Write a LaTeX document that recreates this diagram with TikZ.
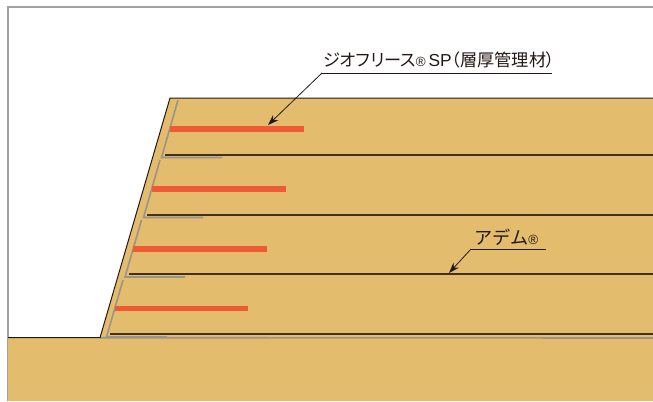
\documentclass[tikz,border=0pt]{standalone}
\usepackage{fontspec}
\setmainfont{Liberation Sans}
\newfontfamily\cjk{Noto Sans CJK JP}
\newfontfamily\cjkp[RawFeature=+palt]{Noto Sans CJK JP}
\definecolor{soil}{HTML}{E4BC6E}
\definecolor{geo}{HTML}{EE5A33}
\definecolor{rim}{HTML}{A0A0A0}
\definecolor{ink}{HTML}{231815}
\definecolor{wrap}{HTML}{9A948A}
\tikzset{
  soilfill/.style={fill=soil,draw=none},
  edge/.style={draw=ink,line width=0.75pt},
  layer/.style={draw=ink!85!soil,line width=1pt},
  facing/.style={draw=wrap,line width=1.2pt,line join=miter},
  grid/.style={draw=geo,line width=3.8pt},
  frameline/.style={draw=rim,line width=0.9pt},
  leader/.style={draw=ink,line width=0.6pt},
  pointer/.style={draw=ink,line width=0.6pt,-{Stealth[length=8pt,width=5.5pt]}},
  tag/.style={inner sep=0pt,anchor=base west,text=ink}
}
\usetikzlibrary{arrows.meta}
\newcommand{\regmark}{{\rmfamily\fontsize{10pt}{11pt}\selectfont ®}}
\begin{document}
\begin{tikzpicture}[x=0.75pt,y=-0.75pt]
\useasboundingbox (0,0) rectangle (653,401);
% coordinates
\coordinate (fl) at (8,401);
\coordinate (ftc) at (8,7);
\coordinate (ftr) at (653,7);
\coordinate (toe) at (100,337.7);
\coordinate (crest) at (170,98);
\coordinate (topr) at (653,98);
\coordinate (gl) at (8,337.7);
\coordinate (gr) at (653,338);
\coordinate (br) at (653,401);
% frame
\draw[frameline] (fl) -- (ftc) -- (ftr);
% soil
\fill[soilfill] (gl) -- (toe) -- (crest) -- (topr) -- (br) -- (fl) -- cycle;
% layer lines
\foreach \n/\xa/\ya in {1/165/155,2/147/215,3/129/274,4/110/334}{
  \coordinate (la\n) at (\xa,\ya);
  \coordinate (lb\n) at (653,\ya);
  \draw[layer] (la\n) -- (lb\n);
}
\draw[draw=wrap,line width=1.2pt] (toe) -- (gr);
% facings
\foreach \n/\xa/\ya/\xb/\yb/\xc in {1/178/100/161.5/157.5/222,2/160/160/143.5/217.5/203,3/141.5/220/125/277/185,4/123/280/106.5/337/167}{
  \coordinate (fa\n) at (\xa,\ya);
  \coordinate (fb\n) at (\xb,\yb);
  \coordinate (fc\n) at (\xc,\yb);
  \draw[facing] (fa\n) -- (fb\n) -- (fc\n);
}
% grids
\foreach \n/\xa/\xb/\ya in {1/170/304/129,2/152/286/189,3/133/267/249,4/115/248/308.5}{
  \coordinate (ga\n) at (\xa,\ya);
  \coordinate (gb\n) at (\xb,\ya);
  \draw[grid] (ga\n) -- (gb\n);
}
% outline
\draw[edge] (gl) -- (toe) -- (crest) -- (topr);
% labels
\node[tag] (geotag) at (323,66) {\fontsize{12.9pt}{14pt}\selectfont\cjkp ジオフリース\regmark\,{\rmfamily\fontsize{13pt}{14pt}\selectfont SP}（層厚管理材）};
\node[tag] (ademtag) at (474,244) {\fontsize{13.6pt}{14pt}\selectfont\cjk アデム\regmark};
% leaders
\coordinate (k1) at (322,73);
\coordinate (e1) at (552,73);
\coordinate (t1) at (268,125);
\coordinate (k2) at (471,249);
\coordinate (e2) at (546,249);
\coordinate (t2) at (449,273);
\draw[leader] (e1) -- (k1);
\draw[pointer] (k1) -- (t1);
\draw[leader] (e2) -- (k2);
\draw[pointer] (k2) -- (t2);
\end{tikzpicture}
\end{document}
